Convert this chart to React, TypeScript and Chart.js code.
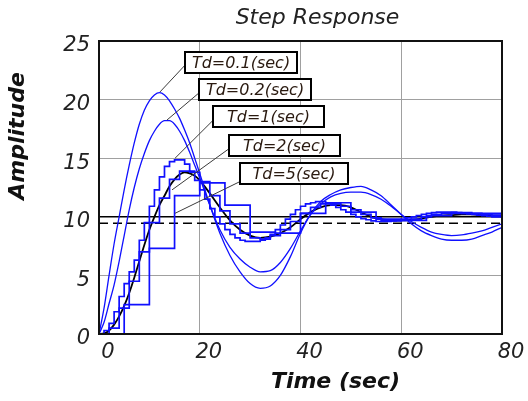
import React, { useEffect, useRef } from 'react';
import { Chart, registerables } from 'chart.js';

Chart.register(...registerables);

// ---- data ----
const X_MIN = 0;
const X_MAX = 80;
const X_STEP = 20;
const Y_MIN = 0;
const Y_MAX = 25;
const Y_STEP = 5;

const SMOOTH_TIMES = [
  0, 1, 2, 3, 4, 5, 6, 7, 8, 9, 10, 11, 12, 13, 14, 15, 16, 17, 18, 19, 20,
  22, 24, 26, 28, 30, 32, 34, 36, 38, 40, 42, 44, 46, 48, 50, 52, 54, 56, 58,
  60, 62, 64, 66, 68, 70, 72, 74, 76, 78, 80,
];

const TD01_VALUES = [
  0, 2.2, 5.0, 7.7, 10.0, 12.3, 14.4, 16.3, 17.9, 19.1, 19.9, 20.4, 20.6, 20.4, 19.9, 19.2, 18.4, 17.4, 16.3, 15.0, 13.7,
  11.0, 8.6, 6.7, 5.3, 4.3, 3.9, 4.1, 5.0, 6.6, 8.6, 10.2, 11.3, 11.9, 12.3, 12.5, 12.6, 12.3, 11.8, 11.0,
  10.2, 9.4, 8.8, 8.4, 8.1, 8.0, 8.0, 8.1, 8.4, 8.7, 9.1,
];

const TD02_VALUES = [
  0, 1.0, 2.6, 4.2, 6.2, 8.4, 10.6, 12.5, 14.1, 15.4, 16.5, 17.3, 17.9, 18.2, 18.2, 17.9, 17.3, 16.5, 15.5, 14.4, 13.3,
  11.0, 8.9, 7.4, 6.4, 5.7, 5.3, 5.4, 6.1, 7.3, 8.8, 10.2, 11.1, 11.7, 12.0, 12.1, 12.1, 11.9, 11.5, 10.9,
  10.2, 9.6, 9.1, 8.7, 8.5, 8.4, 8.45, 8.6, 8.8, 9.1, 9.4,
];

const CONTINUOUS_VALUES = [
  0, 0.05, 0.3, 0.8, 1.5, 2.4, 3.5, 4.8, 6.2, 7.6, 8.9, 10.0, 11.0, 11.8, 12.6, 13.2, 13.6, 13.8, 13.7, 13.5, 13.1,
  12.0, 10.8, 9.7, 8.9, 8.4, 8.2, 8.3, 8.6, 9.1, 9.8, 10.4, 10.8, 11.0, 11.0, 10.8, 10.4, 10.0, 9.8, 9.7,
  9.7, 9.75, 9.85, 10.0, 10.1, 10.15, 10.2, 10.2, 10.15, 10.1, 10.1,
];

const TD1_PERIOD = 1;
const TD1_VALUES = [
  0, 0.3, 0.9, 1.9, 3.2, 4.3, 5.3, 6.3, 8.0, 9.5,
  10.9, 12.3, 13.4, 14.3, 14.7, 14.85, 14.85, 14.5, 13.9, 13.1,
  12.3, 11.5, 10.7, 10.0, 9.4, 8.9, 8.5, 8.2, 8.0, 7.9,
  7.9, 7.9, 8.0, 8.2, 8.5, 8.9, 9.3, 9.8, 10.2, 10.6,
  10.9, 11.1, 11.2, 11.3, 11.3, 11.2, 11.0, 10.8, 10.6, 10.4,
  10.2, 10.0, 9.85, 9.75, 9.65, 9.6, 9.6, 9.6, 9.65, 9.7,
  9.8, 9.9, 10.0, 10.1, 10.2, 10.3, 10.35, 10.4, 10.4, 10.4,
  10.4, 10.35, 10.3, 10.25, 10.2, 10.15, 10.1, 10.05, 10.0, 10.0, 10.0,
];

const TD2_PERIOD = 2;
const TD2_VALUES = [
  0, 0.5, 2.2, 4.5, 7.0, 9.5, 11.6, 13.2, 13.9, 13.8,
  13.0, 11.8, 10.5, 9.4, 8.6, 8.2, 8.1, 8.4, 8.9, 9.6,
  10.3, 10.8, 11.1, 11.1, 10.9, 10.6, 10.2, 9.9, 9.7, 9.65,
  9.7, 9.8, 10.0, 10.2, 10.3, 10.35, 10.35, 10.3, 10.2, 10.15, 10.1,
];

const TD5_PERIOD = 5;
const TD5_VALUES = [0, 2.5, 7.3, 11.8, 12.9, 11.0, 8.7, 8.6, 10.3, 11.2, 10.4, 9.8, 9.7, 10.1, 10.3, 10.3, 10.2];

const REFERENCE_LEVEL = 10;
const DASHED_LEVEL = 9.45;

const LABEL_TEXTS = ['Td=0.1(sec)', 'Td=0.2(sec)', 'Td=1(sec)', 'Td=2(sec)', 'Td=5(sec)'];
// top-left corner of each label box, in data units (time, amplitude)
const LABEL_ANCHORS = [
  [17.1, 24.06],
  [19.94, 21.8],
  [22.7, 19.45],
  [25.8, 17.0],
  [28.0, 14.63],
];
// point of each curve that the leader line points to (time, amplitude)
const LABEL_TIPS = [
  [12.1, 20.65],
  [13.5, 18.26],
  [15.1, 15.0],
  [14.5, 12.3],
  [15.1, 10.3],
];

const TITLE = 'Step Response';
const X_TITLE = 'Time (sec)';
const Y_TITLE = 'Amplitude';

// ---- styles ----
const FONT = "'DejaVu Sans', Verdana, sans-serif";
const BLUE = '#1010ff';

function zip(xs: number[], ys: number[]) {
  return ys.map((y, i) => ({ x: xs[i], y }));
}
function sampled(period: number, ys: number[]) {
  return ys.map((y, i) => ({ x: i * period, y }));
}

const decorPlugin = {
  id: 'decor',
  afterDatasetsDraw(chart: any) {
    const { ctx, chartArea, scales } = chart;
    const xs = scales.x;
    const ys = scales.y;
    ctx.save();
    // frame
    ctx.strokeStyle = '#111';
    ctx.lineWidth = 2;
    ctx.strokeRect(chartArea.left, chartArea.top, chartArea.right - chartArea.left, chartArea.bottom - chartArea.top);

    // leader lines
    const boxW = [112, 112, 111, 111, 108];
    const boxH = 21;
    const lineOff = [13, 14, 14, 14, 19];
    ctx.strokeStyle = '#3a3a3a';
    ctx.lineWidth = 1;
    LABEL_TEXTS.forEach((_, i) => {
      const bx = xs.getPixelForValue(LABEL_ANCHORS[i][0]);
      const by = ys.getPixelForValue(LABEL_ANCHORS[i][1]);
      const tx = xs.getPixelForValue(LABEL_TIPS[i][0]);
      const ty = ys.getPixelForValue(LABEL_TIPS[i][1]);
      ctx.beginPath();
      ctx.moveTo(tx, ty);
      ctx.lineTo(bx, by + lineOff[i]);
      ctx.stroke();
    });
    // boxes
    LABEL_TEXTS.forEach((txt, i) => {
      const bx = Math.round(xs.getPixelForValue(LABEL_ANCHORS[i][0]));
      const by = Math.round(ys.getPixelForValue(LABEL_ANCHORS[i][1]));
      ctx.fillStyle = '#fff';
      ctx.fillRect(bx, by, boxW[i], boxH);
      ctx.strokeStyle = '#000';
      ctx.lineWidth = 2;
      ctx.strokeRect(bx, by, boxW[i], boxH);
      ctx.fillStyle = '#2a1a10';
      ctx.font = `italic 16px ${FONT}`;
      ctx.textAlign = 'center';
      ctx.textBaseline = 'middle';
      ctx.fillText(txt, bx + boxW[i] / 2, by + boxH / 2 + 1);
    });

    // titles
    ctx.fillStyle = '#222';
    ctx.textAlign = 'center';
    ctx.textBaseline = 'middle';
    ctx.font = `italic 22px ${FONT}`;
    ctx.fillText(TITLE, (chartArea.left + chartArea.right) / 2 + 17, 18);
    ctx.fillStyle = '#111';
    ctx.font = `italic bold 22px ${FONT}`;
    ctx.fillText(X_TITLE, (chartArea.left + chartArea.right) / 2 + 35, 382);
    ctx.save();
    ctx.translate(18, 136);
    ctx.rotate(-Math.PI / 2);
    ctx.fillText(Y_TITLE, 0, 0);
    ctx.restore();
    ctx.restore();
  },
};

export default function App() {
  const ref = useRef<HTMLCanvasElement>(null);
  useEffect(() => {
    if (!ref.current) return;
    const smoothStyle = {
      borderColor: BLUE,
      borderWidth: 1.3,
      pointRadius: 0,
      fill: false,
      cubicInterpolationMode: 'monotone' as const,
    };
    const stairStyle = {
      borderColor: BLUE,
      borderWidth: 1.7,
      pointRadius: 0,
      fill: false,
      stepped: true as const,
    };
    const chart = new Chart(ref.current, {
      type: 'line',
      data: {
        datasets: [
          { label: 'Td=0.1', data: zip(SMOOTH_TIMES, TD01_VALUES), ...smoothStyle },
          { label: 'Td=0.2', data: zip(SMOOTH_TIMES, TD02_VALUES), ...smoothStyle },
          { label: 'Td=5', data: sampled(TD5_PERIOD, TD5_VALUES), ...stairStyle },
          { label: 'Td=2', data: sampled(TD2_PERIOD, TD2_VALUES), ...stairStyle },
          { label: 'Td=1', data: sampled(TD1_PERIOD, TD1_VALUES), ...stairStyle },
          {
            label: 'reference',
            data: [
              { x: X_MIN, y: REFERENCE_LEVEL },
              { x: X_MAX, y: REFERENCE_LEVEL },
            ],
            borderColor: '#000',
            borderWidth: 1.5,
            pointRadius: 0,
          },
          {
            label: 'final',
            data: [
              { x: X_MIN, y: DASHED_LEVEL },
              { x: X_MAX, y: DASHED_LEVEL },
            ],
            borderColor: '#000',
            borderWidth: 1.5,
            borderDash: [9, 5],
            pointRadius: 0,
          },
          {
            label: 'continuous',
            data: zip(SMOOTH_TIMES, CONTINUOUS_VALUES),
            borderColor: '#000',
            borderWidth: 1.8,
            pointRadius: 0,
            cubicInterpolationMode: 'monotone',
          },
        ],
      },
      options: {
        responsive: false,
        animation: false,
        devicePixelRatio: 1,
        layout: { padding: { top: 41, right: 26, left: 0, bottom: 0 } },
        plugins: { legend: { display: false }, tooltip: { enabled: false }, title: { display: false } },
        scales: {
          x: {
            type: 'linear',
            min: X_MIN,
            max: X_MAX,
            afterFit: (s: any) => {
              s.height = 67;
            },
            ticks: {
              stepSize: X_STEP,
              padding: 6,
              labelOffset: 9,
              color: '#222',
              font: { family: FONT, size: 21, style: 'italic' },
              maxRotation: 0,
            },
            grid: { color: '#a0a0a0', lineWidth: 1, drawTicks: false },
            border: { display: false },
          },
          y: {
            type: 'linear',
            min: Y_MIN,
            max: Y_MAX,
            afterFit: (s: any) => {
              s.width = 99;
            },
            ticks: {
              stepSize: Y_STEP,
              padding: 9,
              labelOffset: 5,
              color: '#222',
              font: { family: FONT, size: 21, style: 'italic' },
            },
            grid: { color: '#a0a0a0', lineWidth: 1, drawTicks: false },
            border: { display: false },
          },
        },
      },
      plugins: [decorPlugin],
    });
    return () => chart.destroy();
  }, []);
  return (
    <div style={{ position: 'absolute', left: 0, top: 0, width: 528, height: 401, background: '#fff' }}>
      <canvas ref={ref} width={528} height={401} style={{ width: 528, height: 401 }} />
    </div>
  );
}
